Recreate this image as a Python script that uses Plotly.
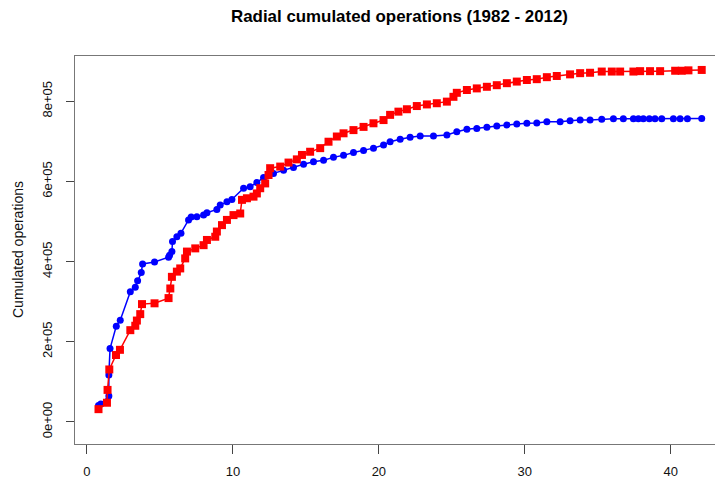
import plotly.graph_objects as go

blue_x = [0.79, 0.95, 1.5, 1.5, 1.58, 2.01, 2.28, 2.97, 3.31, 3.47, 3.72, 3.81, 4.63, 5.59, 5.66, 5.82,
          5.86, 6.16, 6.44, 6.96, 7.14, 7.53, 7.99, 8.22, 8.90, 9.13, 9.59, 9.93, 10.73, 11.18, 11.64,
          12.10, 12.78, 13.47, 14.15, 14.84, 15.52, 16.21, 16.89, 17.58, 18.26, 18.95, 19.63, 20.32,
          20.77, 21.46, 22.14, 22.83, 23.74, 24.66, 25.34, 26.03, 26.71, 27.40, 28.08, 28.77, 29.45,
          30.14, 30.82, 31.51, 32.42, 33.10, 33.79, 34.47, 35.27, 36.07, 36.75, 37.44, 37.78, 38.12,
          38.53, 38.92, 39.38, 40.18, 40.64, 41.14, 42.12]
blue_y = [41000, 45000, 65000, 117000, 183000, 239000, 254000, 325000, 336000, 352000, 373000, 394000,
          399000, 411000, 416000, 425000, 450000, 462000, 471000, 504000, 511000, 512000, 516000, 522000,
          530000, 541000, 549000, 555000, 583000, 587000, 597000, 610000, 620000, 628000, 635000, 643000,
          649000, 653000, 660000, 665000, 672000, 677000, 683000, 691000, 699000, 705000, 710000, 713000,
          713000, 716000, 724000, 730000, 732000, 735000, 738000, 741000, 743000, 745000, 746000, 749000,
          749000, 751000, 753000, 753000, 755000, 756000, 756000, 756000, 756000, 756000, 756000, 756000,
          756000, 756000, 756000, 756000, 757000]

red_x = [0.79, 1.37, 1.41, 1.53, 1.99, 2.26, 2.97, 3.31, 3.42, 3.65, 3.77, 4.63, 5.59, 5.71, 5.82, 6.16,
         6.39, 6.73, 6.85, 7.42, 7.99, 8.22, 8.79, 8.90, 9.25, 9.59, 10.04, 10.50, 10.62, 10.96, 11.41,
         11.64, 11.87, 12.21, 12.44, 12.55, 13.24, 13.81, 14.38, 14.73, 15.29, 15.98, 16.55, 17.12, 17.58,
         18.26, 18.95, 19.63, 20.32, 20.77, 21.34, 21.92, 22.60, 23.29, 23.97, 24.66, 25.11, 25.34, 26.03,
         26.71, 27.40, 28.08, 28.77, 29.45, 30.14, 30.82, 31.51, 32.19, 33.10, 33.79, 34.47, 35.27, 35.96,
         36.53, 37.44, 37.90, 38.58, 39.27, 40.30, 40.75, 41.21, 42.12]
red_y = [32000, 48000, 80000, 131000, 167000, 180000, 229000, 240000, 253000, 269000, 294000, 296000,
         309000, 333000, 362000, 375000, 383000, 408000, 425000, 433000, 441000, 454000, 462000, 475000,
         491000, 504000, 516000, 520000, 554000, 558000, 562000, 570000, 583000, 595000, 616000, 633000,
         637000, 647000, 655000, 666000, 674000, 683000, 699000, 712000, 720000, 728000, 736000, 745000,
         753000, 766000, 774000, 780000, 788000, 792000, 795000, 799000, 811000, 821000, 828000, 832000,
         836000, 840000, 845000, 849000, 853000, 855000, 860000, 863000, 867000, 870000, 871000, 874000,
         874000, 874000, 874000, 875000, 875000, 875000, 876000, 876000, 877000, 878000]

x_ticks = [0, 10, 20, 30, 40]
y_ticks = [0, 200000, 400000, 600000, 800000]
y_tick_text = ["0e+00", "2e+05", "4e+05", "6e+05", "8e+05"]

FONT = "Liberation Sans, Arial, sans-serif"

fig = go.Figure()
fig.add_trace(go.Scatter(x=blue_x, y=blue_y, mode="lines+markers",
                         line=dict(color="#0000ff", width=1.5),
                         marker=dict(symbol="circle", size=7, color="#0000ff")))
fig.add_trace(go.Scatter(x=red_x, y=red_y, mode="lines+markers",
                         line=dict(color="#ff0000", width=1.5),
                         marker=dict(symbol="square", size=8, color="#ff0000")))

fig.update_layout(
    width=715, height=479,
    margin=dict(l=75, r=0, t=56, b=35, pad=0, autoexpand=False),
    plot_bgcolor="white", paper_bgcolor="white",
    showlegend=False,
    font=dict(family=FONT, size=13, color="#000"),
    xaxis=dict(range=[-0.82, 43.03], tickvals=x_ticks, ticks="outside", ticklen=9,
               tickcolor="#444", showgrid=False, zeroline=False, showline=True,
               linecolor="#777", linewidth=1, mirror=True, automargin=False,
               ticklabelstandoff=6,
               tickfont=dict(family=FONT, size=13, color="#111")),
    yaxis=dict(range=[-54900, 912800], tickvals=y_ticks, ticktext=y_tick_text,
               ticks="outside", ticklen=8, tickcolor="#444", tickangle=-90,
               showgrid=False, zeroline=False, showline=True,
               linecolor="#777", linewidth=1, mirror=True, automargin=False,
               ticklabelstandoff=9,
               tickfont=dict(family=FONT, size=13, color="#111")),
    annotations=[
        dict(text="<b>Radial cumulated operations (1982 - 2012)</b>", xref="paper", yref="paper",
             x=(399 - 75) / 640, y=1 + (56 - 17) / 388, showarrow=False,
             font=dict(family=FONT, size=16.9, color="#000"), xanchor="center", yanchor="middle"),
        dict(text="Cumulated operations", xref="paper", yref="paper",
             x=(18 - 75) / 640, y=0.5, showarrow=False, textangle=-90,
             font=dict(family=FONT, size=14, color="#111"), xanchor="center", yanchor="middle"),
    ],
)

fig.write_html("out.html", config={"displayModeBar": False},
               post_script="document.body.style.margin='0';document.body.style.overflow='hidden';")
